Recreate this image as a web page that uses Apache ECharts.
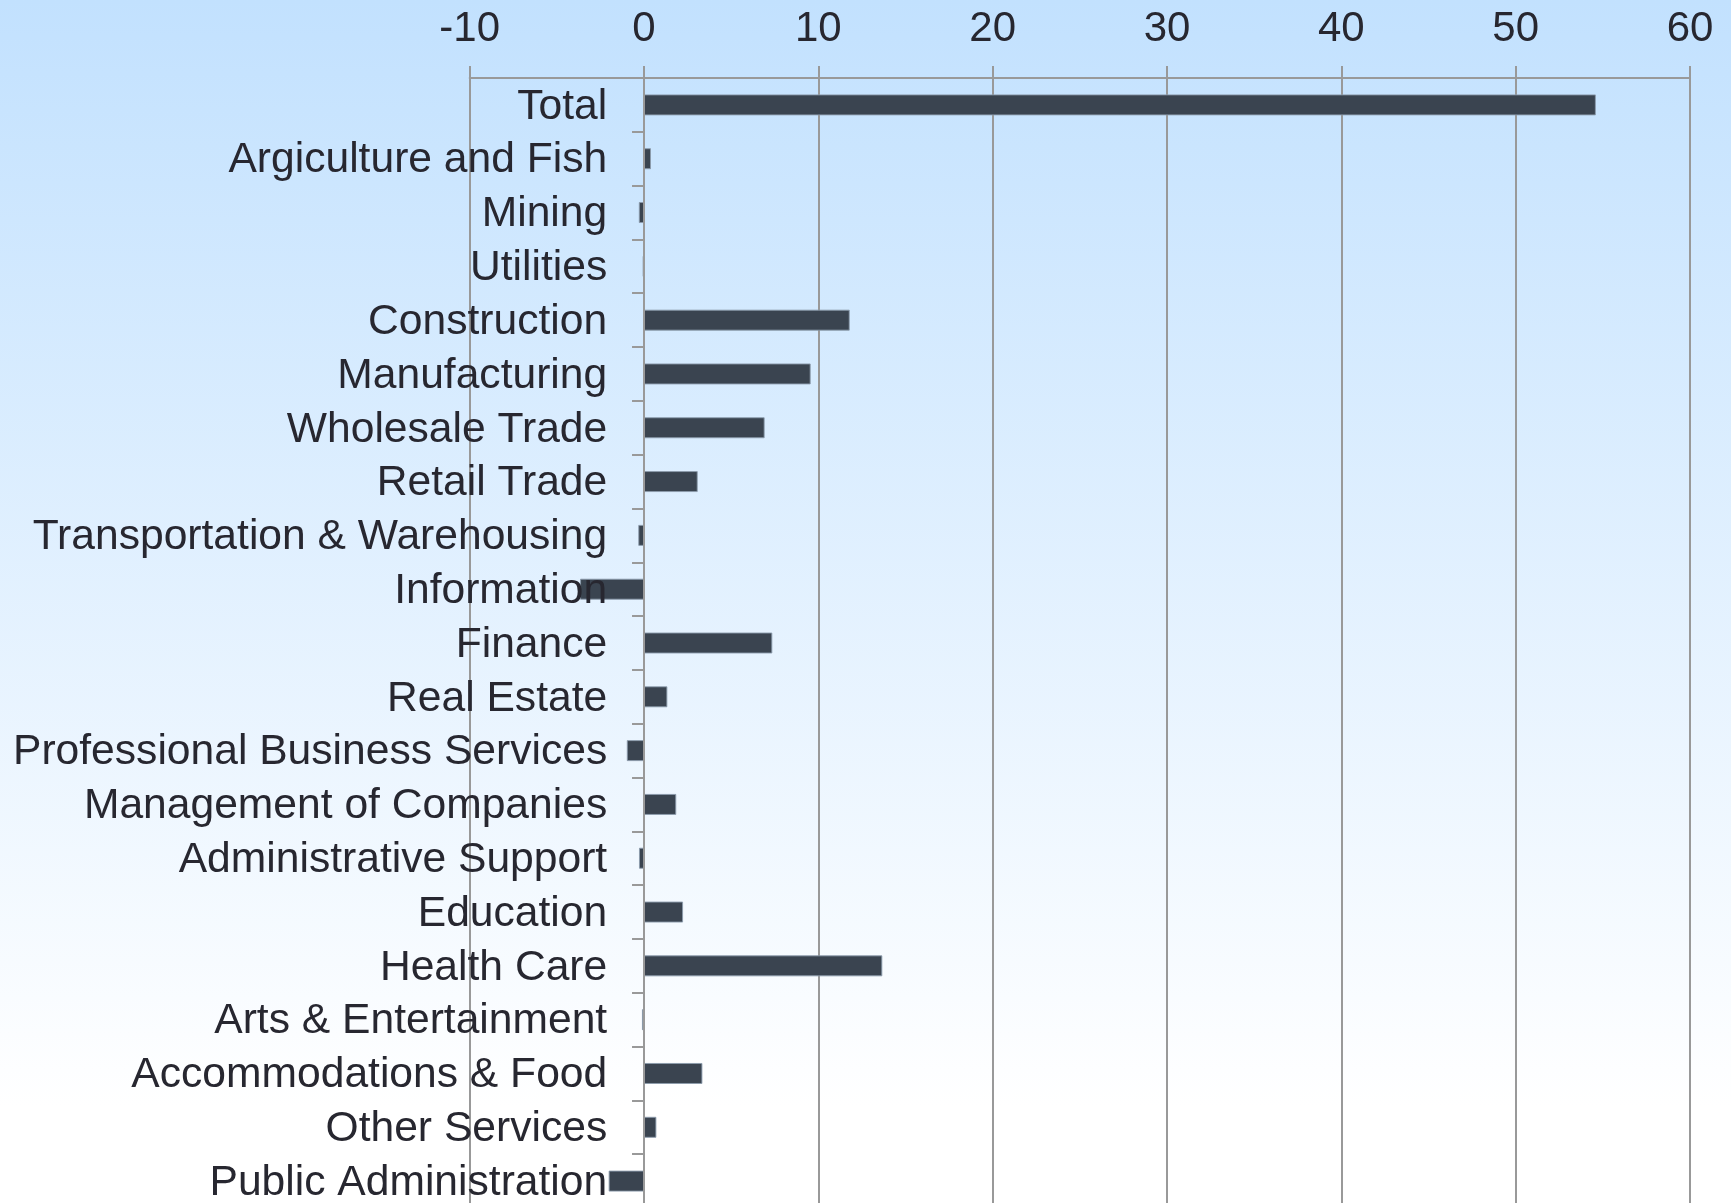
<!DOCTYPE html>
<html>
<head>
<meta charset="utf-8">
<style>
  html, body { margin: 0; padding: 0; background: #ffffff; }
  #chart { width: 1731px; height: 1203px; }
</style>
<script src="https://cdn.jsdelivr.net/npm/echarts@6/dist/echarts.min.js"></script>
</head>
<body>
<div id="chart"></div>
<script>
const categories = [
  "Total", "Argiculture and Fish", "Mining", "Utilities", "Construction",
  "Manufacturing", "Wholesale Trade", "Retail Trade", "Transportation & Warehousing",
  "Information", "Finance", "Real Estate", "Professional Business Services",
  "Management of Companies", "Administrative Support", "Education", "Health Care",
  "Arts & Entertainment", "Accommodations & Food", "Other Services", "Public Administration"
];
const values = [
  54.6, 0.4, -0.3, -0.08, 11.8,
  9.56, 6.92, 3.08, -0.33,
  -3.67, 7.36, 1.34, -0.99,
  1.85, -0.29, 2.24, 13.67,
  -0.12, 3.35, 0.71, -2.03
];
const xTicks = [-10, 0, 10, 20, 30, 40, 50, 60];

const chart = echarts.init(document.getElementById('chart'), null, { renderer: 'canvas' });
const font = "'Liberation Sans', Arial, Helvetica, sans-serif";
const textColor = '#272730';
const gridColor = '#999999';

chart.setOption({
  animation: false,
  backgroundColor: {
    type: 'linear', x: 0, y: 0, x2: 0, y2: 1,
    colorStops: [
      { offset: 0, color: '#c2e1fe' },
      { offset: 0.92, color: '#ffffff' },
      { offset: 1, color: '#ffffff' }
    ]
  },
  grid: { left: 469.7, right: 41, top: 78, height: 1130, containLabel: false, outerBoundsMode: 'none' },
  xAxis: {
    type: 'value',
    position: 'top',
    min: xTicks[0],
    max: xTicks[xTicks.length - 1],
    interval: xTicks[1] - xTicks[0],
    axisLine: { show: true, lineStyle: { color: gridColor, width: 2 } },
    axisTick: { show: true, length: 12, lineStyle: { color: gridColor, width: 2 } },
    splitLine: { show: true, lineStyle: { color: gridColor, width: 2 } },
    axisLabel: { fontSize: 42, color: textColor, fontFamily: font, margin: 28 }
  },
  yAxis: {
    type: 'category',
    inverse: true,
    data: categories,
    z: 5,
    axisLine: { show: true, onZero: true, lineStyle: { color: gridColor, width: 2 } },
    axisTick: { show: true, length: 12, alignWithLabel: false, lineStyle: { color: gridColor, width: 2 } },
    splitLine: { show: false },
    axisLabel: {
      fontSize: 42.6, color: textColor, fontFamily: font, margin: -137.5, interval: 0,
      formatter: function (v) { return '{a|' + v + '}'; },
      rich: { a: { fontSize: 42.6, color: textColor, fontFamily: font, padding: [4, 0, 0, 0] } }
    }
  },
  series: [{
    type: 'bar',
    data: values,
    barWidth: 21,
    itemStyle: { color: '#3a4450', borderColor: 'rgba(140,155,172,0.9)', borderWidth: 1 },
    z: 1
  }]
});
</script>
</body>
</html>
